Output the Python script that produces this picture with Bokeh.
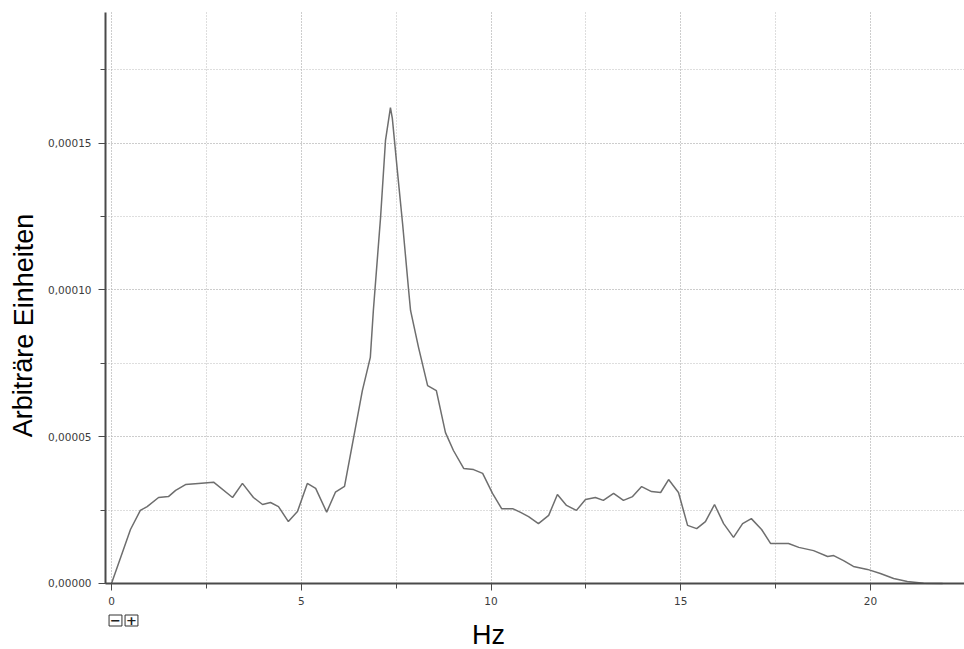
from bokeh.plotting import figure
from bokeh.models import Range1d, SingleIntervalTicker, CustomJSTickFormatter, Label
from bokeh.embed import file_html
from bokeh.resources import INLINE

# ---- data ----
freq_hz = [0.00, 0.50, 0.76, 0.94, 1.24, 1.50, 1.69, 1.95, 2.29, 2.69, 3.19, 3.45, 3.74, 3.98,
           4.19, 4.40, 4.66, 4.90, 5.16, 5.38, 5.67, 5.90, 6.14, 6.38, 6.61, 6.82, 6.90, 7.09,
           7.22, 7.35, 7.40, 7.54, 7.67, 7.83, 7.88, 8.09, 8.33, 8.56, 8.80, 9.01, 9.28, 9.54,
           9.78, 10.04, 10.28, 10.57, 10.78, 10.99, 11.25, 11.52, 11.75, 11.99, 12.25, 12.49,
           12.75, 12.96, 13.23, 13.49, 13.73, 13.97, 14.23, 14.47, 14.68, 14.94, 15.18, 15.42,
           15.65, 15.89, 16.13, 16.39, 16.63, 16.86, 17.13, 17.37, 17.84, 18.11, 18.50, 18.87,
           19.03, 19.29, 19.55, 19.92, 20.26, 20.61, 20.97, 21.40, 21.90]

amplitude = [0.00e-5, 1.84e-5, 2.49e-5, 2.62e-5, 2.93e-5, 2.96e-5, 3.17e-5, 3.37e-5, 3.41e-5,
             3.45e-5, 2.93e-5, 3.41e-5, 2.93e-5, 2.69e-5, 2.76e-5, 2.62e-5, 2.11e-5, 2.45e-5,
             3.41e-5, 3.24e-5, 2.43e-5, 3.11e-5, 3.31e-5, 4.97e-5, 6.57e-5, 7.70e-5, 9.30e-5,
             12.47e-5, 15.09e-5, 16.21e-5, 15.84e-5, 13.96e-5, 12.26e-5, 9.98e-5, 9.30e-5,
             8.04e-5, 6.74e-5, 6.57e-5, 5.14e-5, 4.53e-5, 3.92e-5, 3.88e-5, 3.75e-5, 3.07e-5,
             2.55e-5, 2.55e-5, 2.42e-5, 2.28e-5, 2.04e-5, 2.32e-5, 3.03e-5, 2.66e-5, 2.49e-5,
             2.86e-5, 2.93e-5, 2.83e-5, 3.07e-5, 2.83e-5, 2.96e-5, 3.30e-5, 3.13e-5, 3.10e-5,
             3.54e-5, 3.10e-5, 1.98e-5, 1.87e-5, 2.11e-5, 2.69e-5, 2.04e-5, 1.57e-5, 2.04e-5,
             2.21e-5, 1.84e-5, 1.36e-5, 1.36e-5, 1.23e-5, 1.12e-5, 0.92e-5, 0.95e-5, 0.78e-5,
             0.58e-5, 0.48e-5, 0.34e-5, 0.17e-5, 0.07e-5, 0.01e-5, 0.00e-5]

x_label = "Hz"
y_label = "Arbiträre Einheiten"
x_tick_interval = 5
y_tick_interval = 5e-5

W, H = 964, 649
X_MIN, X_MAX = -0.158, 22.48      # visible plotting area (axes bounds)
Y_MIN, Y_MAX = 0.0, 19.45e-5

# The frame covers the whole canvas; axes are pinned at the plot-area edges so that
# the axis titles (centred on the canvas, as in the reference) are not clipped.
p = figure(width=W, height=H, output_backend="svg", toolbar_location=None,
           x_range=Range1d(-2.925, 22.477), y_range=Range1d(-2.248e-5, 19.857e-5),
           min_border=0)
p.outline_line_color = None
p.background_fill_color = "white"
p.border_fill_color = "white"

p.xaxis.fixed_location = Y_MIN
p.yaxis.fixed_location = X_MIN
p.xaxis.bounds = (X_MIN, X_MAX)
p.yaxis.bounds = (Y_MIN, Y_MAX)

p.xaxis.ticker = SingleIntervalTicker(interval=x_tick_interval, num_minor_ticks=2)
p.yaxis.ticker = SingleIntervalTicker(interval=y_tick_interval, num_minor_ticks=2)
p.yaxis.formatter = CustomJSTickFormatter(code="return tick.toFixed(5).replace('.', ',');")

for ax in (p.xaxis, p.yaxis):
    ax.axis_line_color = "#4a4a4a"
    ax.axis_line_width = 2
    ax.major_tick_line_color = "#4a4a4a"
    ax.minor_tick_line_color = "#4a4a4a"
    ax.major_tick_out = 7
    ax.major_tick_in = 0
    ax.minor_tick_out = 5
    ax.minor_tick_in = 0
    ax.major_label_text_font = "DejaVu Sans"
    ax.major_label_text_font_size = "10.5px"
    ax.major_label_text_color = "#3c3c3c"
    ax.major_label_standoff = 7

p.xgrid.bounds = (X_MIN, X_MAX)
p.xgrid.cross_bounds = (Y_MIN, Y_MAX)
p.ygrid.bounds = (Y_MIN, Y_MAX)
p.ygrid.cross_bounds = (X_MIN, X_MAX)
for g in (p.xgrid, p.ygrid):
    g.grid_line_color = "#bcbcbc"
    g.grid_line_dash = "1 2"
    g.grid_line_width = 1
    g.minor_grid_line_color = "#bcbcbc"
    g.minor_grid_line_dash = "1 2"
    g.minor_grid_line_width = 1

p.line(freq_hz, amplitude, line_color="#6e6e6e", line_width=1.5)

# axis titles centred on the whole canvas (screen units: from bottom-left of canvas)
p.add_layout(Label(x=488, y=H - 634, x_units="screen", y_units="screen", text=x_label,
                   text_font="Liberation Sans", text_font_size="27px", text_color="black",
                   text_align="center", text_baseline="middle"))
p.add_layout(Label(x=23, y=H - 325, x_units="screen", y_units="screen", text=y_label,
                   angle=1.5707963, text_font="Liberation Sans", text_font_size="27px",
                   text_color="black", text_align="center", text_baseline="middle"))

# small zoom buttons under the origin
for cx, sym in ((115, "\u2212"), (131, "+")):
    p.add_layout(Label(x=cx, y=H - 620, x_units="screen", y_units="screen", text=sym,
                       text_font="DejaVu Sans", text_font_size="13px", text_font_style="bold",
                       text_color="#222222", text_align="center", text_baseline="middle",
                       border_line_color="#333333", border_line_width=1,
                       background_fill_color="white", padding=1))

open("out.html", "w").write(file_html(p, INLINE))
